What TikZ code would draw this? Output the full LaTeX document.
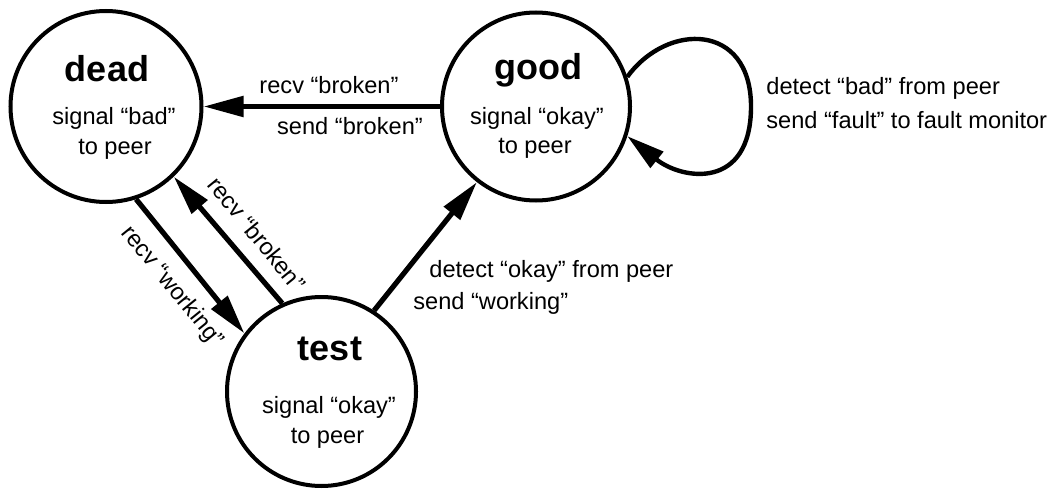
\documentclass[tikz,border=0pt]{standalone}
\usepackage{fontspec}
\setmainfont{Liberation Sans}
\usetikzlibrary{arrows.meta}
\begin{document}
\begin{tikzpicture}[x=0.5pt,y=-0.5pt,
  state/.style={circle,draw,line width=2pt,inner sep=0pt},
  title/.style={font=\fontsize{18}{20}\selectfont\bfseries,anchor=base,inner sep=0pt},
  body/.style={font=\fontsize{11.8}{14}\selectfont,anchor=base,inner sep=0pt},
  lbl/.style={font=\fontsize{11.8}{14}\selectfont,inner sep=0pt},
  trans/.style={line width=2.6pt,-{Triangle[length=20pt,width=10pt]}},
  selfloop/.style={line width=2.2pt,-{Triangle[length=19pt,width=10pt]}},
]
\useasboundingbox (0,0) rectangle (1054,492);
% states
\node[state,minimum size=95.5pt] (dead) at (106,106.5) {};
\node[state,minimum size=94pt] (good) at (536,106.5) {};
\node[state,minimum size=94.5pt] (test) at (321.5,391.5) {};
% state texts
\node[title] (deadT) at (107,82) {dead};
\node[body] (deadA) at (114,125) {signal “bad”};
\node[body] (deadB) at (115,155) {to peer};
\node[title] (goodT) at (538,80) {good};
\node[body] (goodA) at (537,125) {signal “okay”};
\node[body] (goodB) at (535,154) {to peer};
\node[title] (testT) at (330,360) {test};
\node[body] (testA) at (329,413) {signal “okay”};
\node[body] (testB) at (327.5,443) {to peer};
% transitions
\draw[trans] (good) -- (dead);
\draw[trans] (dead.-72) -- (test.143);
\draw[trans] (test.114.5) -- (dead.-46);
\draw[trans] (test.57.7) -- (good.-128);
\coordinate (loopR) at (751,106.5);
\draw[selfloop] (good.18) .. controls +(40,-55) and +(0,-84) .. (loopR)
  .. controls +(0,84) and +(55,44) .. (good.-18);
% labels
\node[lbl,anchor=base] (l1) at (329,94) {recv “broken”};
\node[lbl,anchor=base] (l2) at (350,134) {send “broken”};
\node[lbl,anchor=base west] (l3) at (429,277) {detect “okay” from peer};
\node[lbl,anchor=base west] (l4) at (413,309) {send “working”};
\node[lbl,anchor=base west] (l5) at (766,95) {detect “bad” from peer};
\node[lbl,anchor=base west] (l6) at (766,128) {send “fault” to fault monitor};
\node[lbl,rotate=-51] (l7) at (257,234) {recv “broken”};
\node[lbl,rotate=-51] (l8) at (172,287) {recv “working”};
\end{tikzpicture}
\end{document}
